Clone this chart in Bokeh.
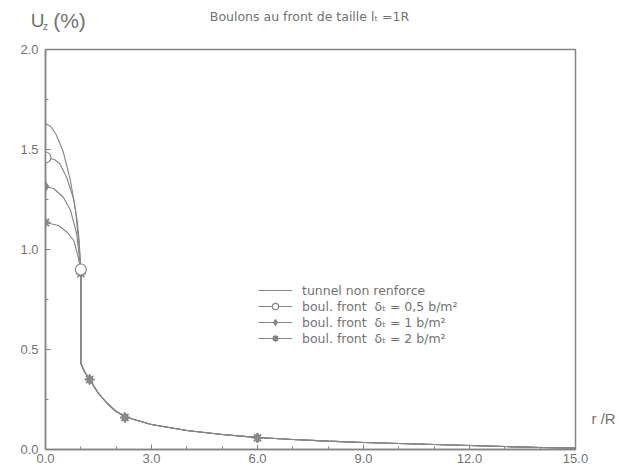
from bokeh.plotting import figure
from bokeh.layouts import column, row
from bokeh.models import (Range1d, FixedTicker, NumeralTickFormatter, Legend, LegendItem)
from bokeh.core.properties import value
from bokeh.embed import file_html
from bokeh.resources import INLINE

# ---- data ----
# shared lower branch (r/R >= 1)
x_low = [1.0, 1.1, 1.25, 1.5, 1.75, 2.0, 2.25, 2.5, 3.0, 3.5, 4.0, 5.0, 6.0, 7.0, 8.0, 9.0, 10.0, 11.0, 12.0, 13.0, 14.0, 15.0]
y_low = [0.43, 0.39, 0.35, 0.28, 0.23, 0.19, 0.165, 0.15, 0.125, 0.11, 0.095, 0.075, 0.06, 0.05, 0.042, 0.035, 0.03, 0.025, 0.02, 0.015, 0.01, 0.007]

# upper branches (r/R <= 1)
x_tun = [0.0, 0.15, 0.3, 0.5, 0.7, 0.85, 0.93, 1.0]
y_tun = [1.63, 1.615, 1.575, 1.49, 1.35, 1.195, 1.05, 0.92]

x_c05 = [0.0, 0.25, 0.4, 0.6, 0.8, 0.9, 0.95, 1.0]
y_c05 = [1.46, 1.45, 1.43, 1.36, 1.25, 1.14, 1.05, 0.90]

x_d1 = [0.0, 0.23, 0.51, 0.71, 0.88, 1.0]
y_d1 = [1.315, 1.305, 1.26, 1.195, 1.08, 0.90]

x_s2 = [0.0, 0.37, 0.62, 0.8, 0.93, 1.0]
y_s2 = [1.135, 1.12, 1.085, 1.045, 0.96, 0.88]

# markers
mk_x_c05 = [0.0, 1.0]
mk_y_c05 = [1.46, 0.90]
mk_x_d1 = [0.0, 1.0, 1.25, 2.25, 6.0]
mk_y_d1 = [1.315, 0.90, 0.35, 0.16, 0.058]
mk_x_s2 = [0.0, 1.0, 1.25, 2.25, 6.0]
mk_y_s2 = [1.135, 0.88, 0.35, 0.16, 0.058]

x_ticks = [0, 3, 6, 9, 12, 15]
x_minor = list(range(0, 16))
y_ticks = [0.0, 0.5, 1.0, 1.5, 2.0]
y_minor = [0.25 * i for i in range(9)]

labels = ["tunnel non renforce",
          "boul. front  δₜ = 0,5 b/m²",
          "boul. front  δₜ = 1 b/m²",
          "boul. front  δₜ = 2 b/m²"]
title_text = "Boulons au front de taille  lₜ =1R"
x_title = "r  /R"

GREY = "#858585"
TXT = "#727272"
FONT = "Liberation Sans"

HEAD_H = 39
MAIN_W = 591
MAIN_H = 427
RIGHT_W = 40

def blank(w, h, yr):
    f = figure(width=w, height=h, output_backend="svg", toolbar_location=None,
               x_range=Range1d(0, w), y_range=Range1d(yr, 0),
               min_border_left=0, min_border_right=0, min_border_top=0, min_border_bottom=0)
    f.axis.visible = False
    f.grid.visible = False
    f.outline_line_color = None
    return f

# ---- header (title and y label) ----
head = blank(MAIN_W + RIGHT_W, HEAD_H, HEAD_H)
head.text([311], [16], text=[title_text], text_font=value("DejaVu Sans"), text_font_size="12.5px",
          text_color=TXT, text_align="center", text_baseline="middle")
head.text([37], [20], text=["U"], text_font=value(FONT), text_font_size="19px",
          text_color=TXT, text_align="center", text_baseline="middle")
head.text([45], [26], text=["z"], text_font=value(FONT), text_font_size="10px",
          text_color=TXT, text_align="center", text_baseline="middle")
head.text([69], [20], text=["(%)"], text_font=value(FONT), text_font_size="21px",
          text_color=TXT, text_align="center", text_baseline="middle")

# ---- main chart ----
p = figure(width=MAIN_W, height=MAIN_H, output_backend="svg", toolbar_location=None,
           x_range=Range1d(0, 15), y_range=Range1d(0, 2),
           min_border_left=45, min_border_right=16, min_border_top=10, min_border_bottom=17)
p.grid.visible = False
p.outline_line_color = GREY
p.outline_line_width = 1.5

for ax in (p.xaxis[0], p.yaxis[0]):
    ax.axis_line_color = GREY
    ax.axis_line_width = 1.5
    ax.major_tick_line_color = GREY
    ax.minor_tick_line_color = GREY
    ax.major_tick_in = 5
    ax.major_tick_out = 0
    ax.minor_tick_in = 3
    ax.minor_tick_out = 0
    ax.major_label_text_color = TXT
    ax.major_label_text_font = FONT
    ax.major_label_text_font_size = "13px"
    ax.formatter = NumeralTickFormatter(format="0.0")
p.xaxis.major_label_standoff = 4
p.yaxis.major_label_standoff = 7

p.xaxis.ticker = FixedTicker(ticks=x_ticks, minor_ticks=x_minor)
p.yaxis.ticker = FixedTicker(ticks=y_ticks, minor_ticks=y_minor)

def full(xu, yu):
    return xu + x_low, yu + y_low

lw = 1.1
xt, yt = full(x_tun, y_tun)
r_t = p.line(xt, yt, line_color=GREY, line_width=lw)
xc, yc = full(x_c05, y_c05)
r_c = p.line(xc, yc, line_color=GREY, line_width=lw)
xd, yd = full(x_d1, y_d1)
r_d = p.line(xd, yd, line_color=GREY, line_width=lw)
xs, ys = full(x_s2, y_s2)
r_s = p.line(xs, ys, line_color=GREY, line_width=lw)

m_s = p.scatter(mk_x_s2, mk_y_s2, marker="asterisk", size=10, line_color=GREY, line_width=1.8)
m_d = p.scatter(mk_x_d1, mk_y_d1, marker="diamond", size=10, fill_color="#8a8a8a", line_color=GREY)
m_c = p.scatter(mk_x_c05, mk_y_c05, marker="circle", size=11, fill_color="white", line_color=GREY, line_width=1.2)

legend = Legend(items=[LegendItem(label=labels[0], renderers=[r_t]),
                       LegendItem(label=labels[1], renderers=[r_c, m_c]),
                       LegendItem(label=labels[2], renderers=[r_d, m_d]),
                       LegendItem(label=labels[3], renderers=[r_s, m_s])],
                location=(209, 99), border_line_alpha=0, background_fill_alpha=0,
                label_text_font="DejaVu Sans", label_text_font_size="12.5px", label_text_color=TXT,
                glyph_width=34, glyph_height=16, label_height=16, spacing=0, padding=4,
                label_standoff=10)
p.add_layout(legend, "center")

# ---- right strip (x label beside the axis end) ----
side = blank(RIGHT_W, MAIN_H, MAIN_H)
side.text([0], [433 - HEAD_H], text=[x_title], text_font=value(FONT), text_font_size="15px",
          text_color=TXT, text_align="left", text_baseline="middle")

layout = column(head, row(p, side, spacing=0), spacing=0)
open("out.html", "w").write(file_html(layout, INLINE))
